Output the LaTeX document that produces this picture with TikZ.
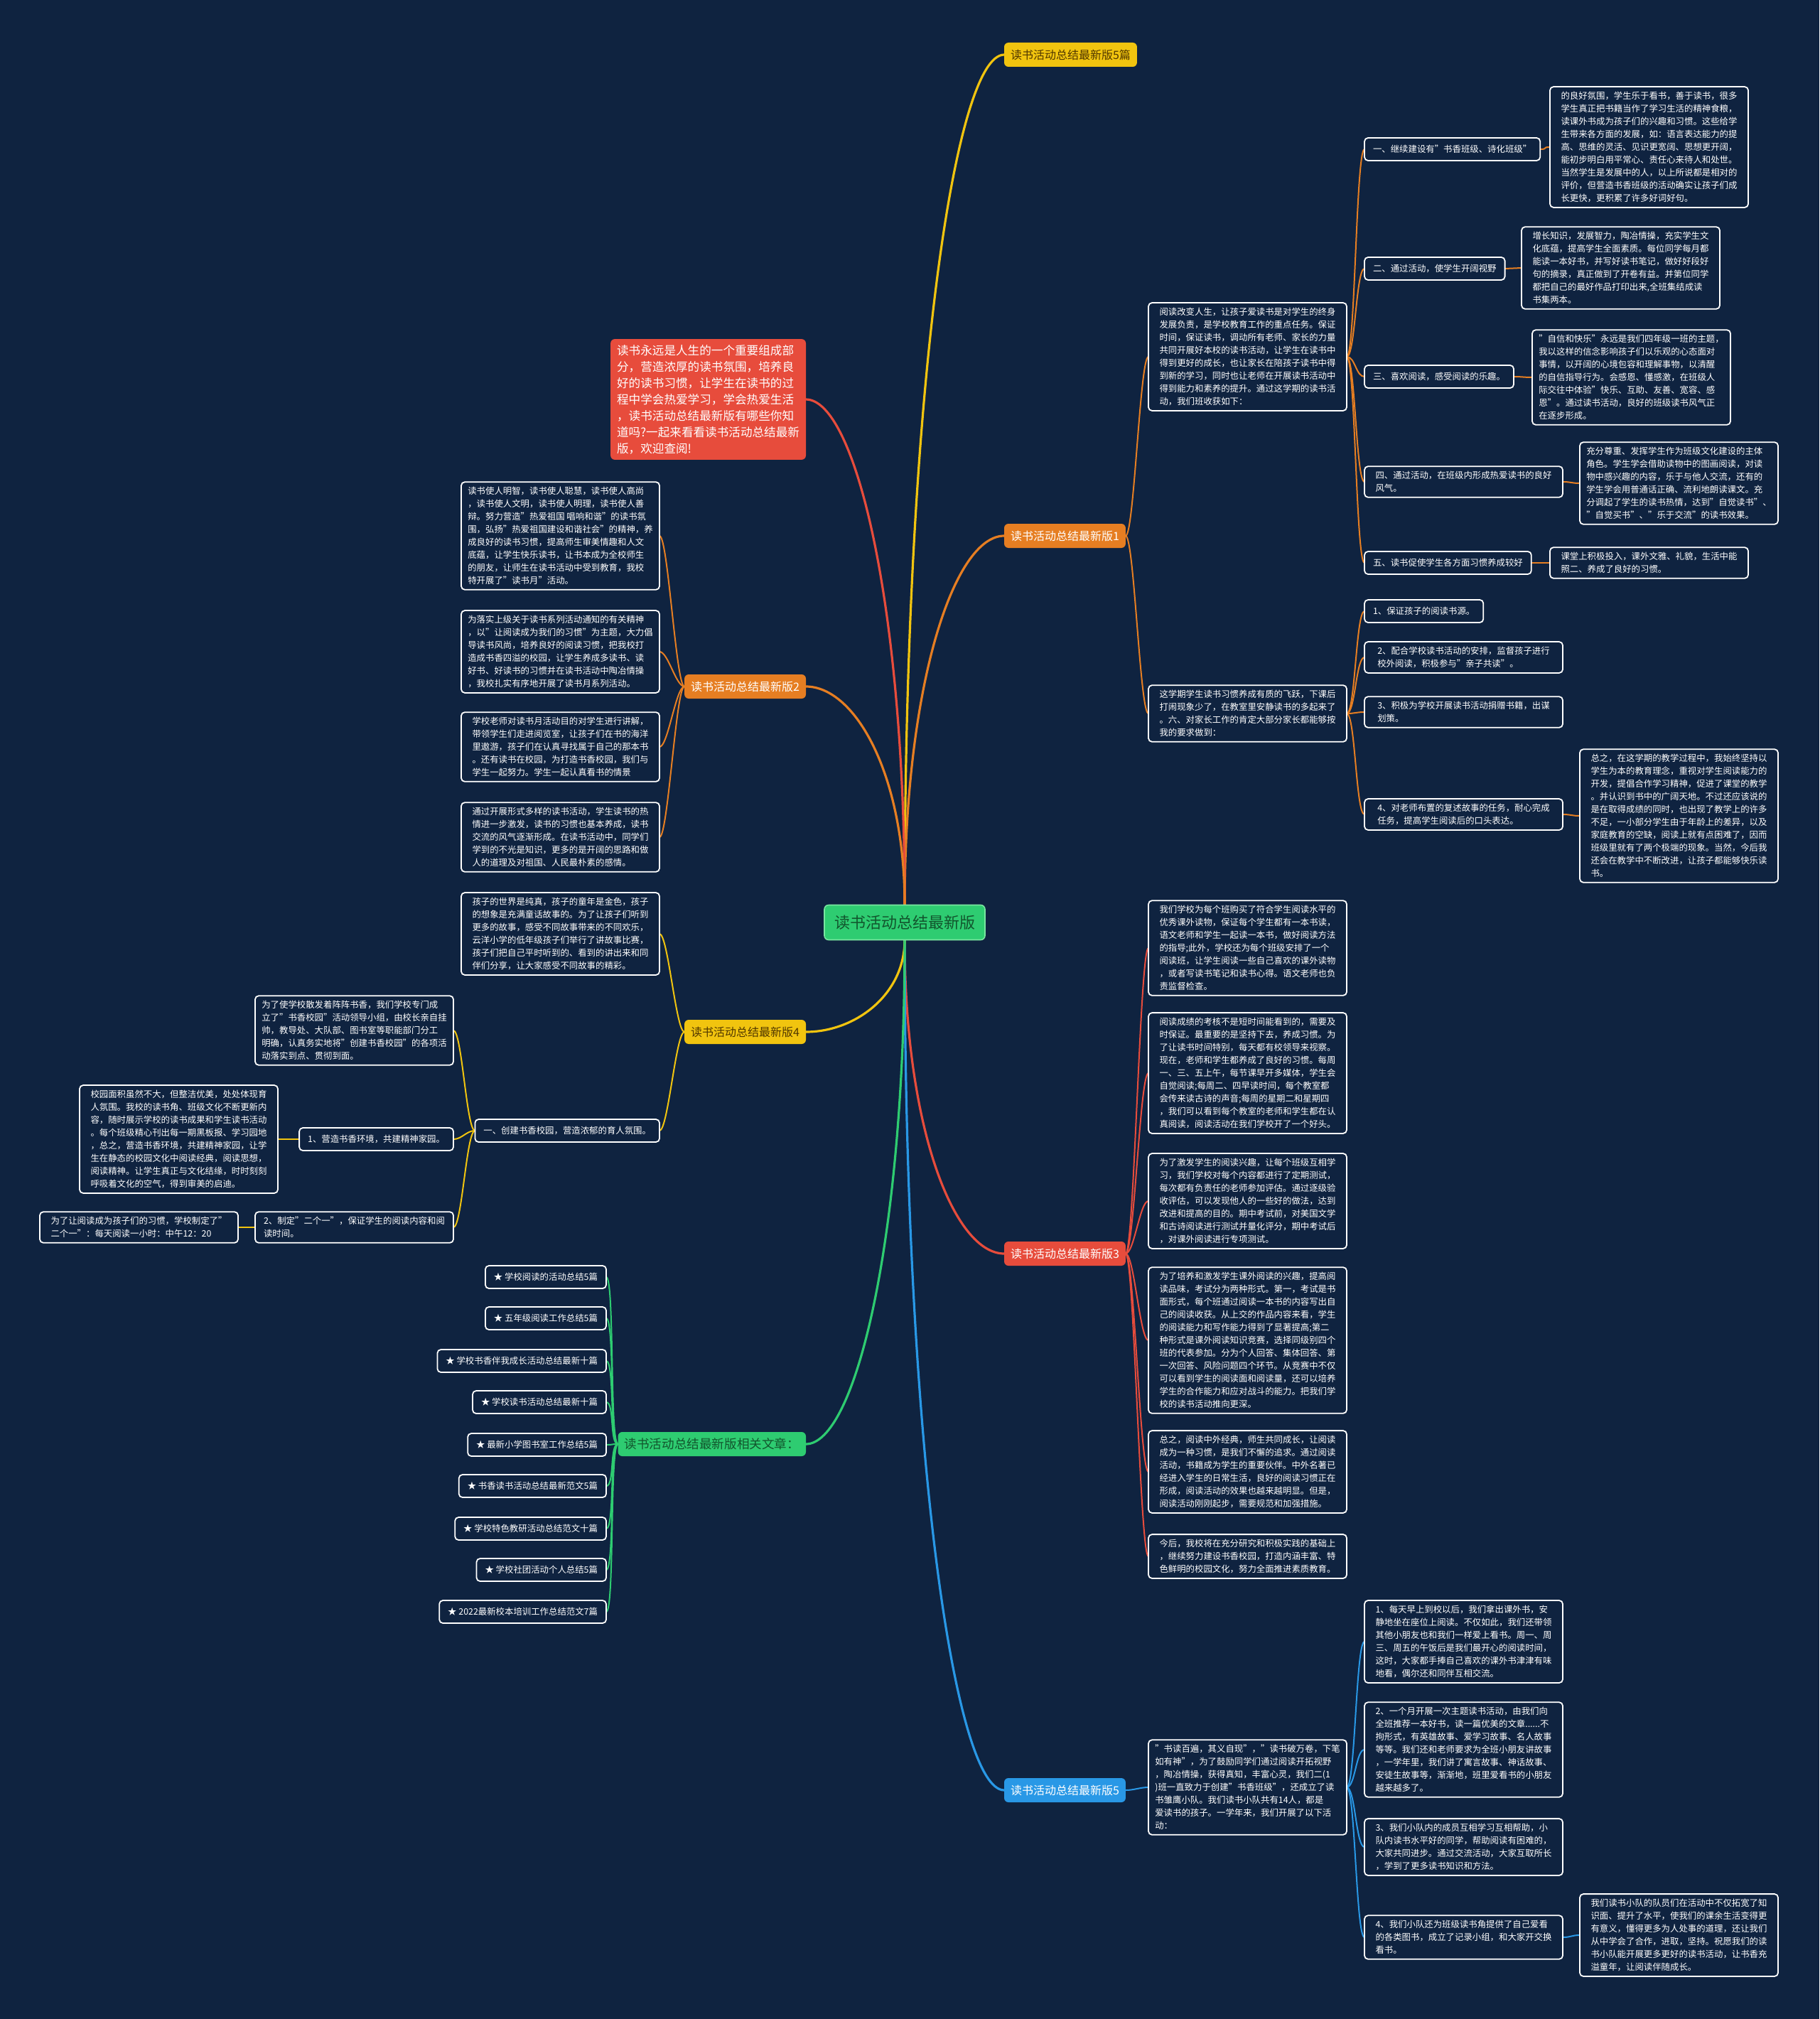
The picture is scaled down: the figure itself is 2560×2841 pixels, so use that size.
\documentclass[tikz,border=0pt]{standalone}
\usepackage{fontspec}
\setmainfont{Noto Sans CJK SC}
\usetikzlibrary{calc}
\pgfdeclarelayer{bgl}
\pgfsetlayers{bgl,main}
\definecolor{bg}{RGB}{15,35,64}
\definecolor{cy}{RGB}{241,196,15}
\definecolor{co}{RGB}{230,126,34}
\definecolor{cr}{RGB}{231,76,60}
\definecolor{cb}{RGB}{41,152,230}
\definecolor{cg}{RGB}{46,204,113}
\definecolor{dg}{RGB}{18,85,45}
\definecolor{dy}{RGB}{80,55,0}
\tikzset{
 txt/.style={draw=white, line width=0.9pt, fill=bg, text=white, rounded corners=2.5pt, align=left, inner xsep=4.5pt, inner ysep=3.5pt, outer sep=0pt, minimum width=139.5pt, font=\fontsize{6.2}{9}\selectfont},
 lbl/.style={draw=white, line width=0.9pt, fill=bg, text=white, rounded corners=2.5pt, align=left, inner xsep=6pt, inner ysep=3.5pt, outer sep=0pt, minimum height=16pt, font=\fontsize{6.2}{9}\selectfont},
 br/.style={rounded corners=3pt, inner xsep=4.5pt, inner ysep=2pt, minimum height=17pt, outer sep=0pt, font=\fontsize{8}{10}\selectfont},
 rootbox/.style={fill=cg, draw={rgb,255:red,120;green,230;blue,160}, line width=0.8pt, text=dg, rounded corners=3pt, minimum width=113pt, minimum height=24.5pt, outer sep=0pt, font=\fontsize{11}{13}\selectfont},
 introbox/.style={fill=cr, text=white, rounded corners=3pt, align=left, inner xsep=4.5pt, inner ysep=4pt, outer sep=0pt, font=\fontsize{8.3}{11.5}\selectfont},
 rc/.style={to path={.. controls ([xshift=6pt]\tikztostart) and ([xshift=-6pt]\tikztotarget) .. (\tikztotarget)}},
 lc/.style={to path={.. controls ([xshift=-6pt]\tikztostart) and ([xshift=6pt]\tikztotarget) .. (\tikztotarget)}},
 mainline/.style={line width=1.6pt, line cap=round},
 subline/.style={line width=1pt, line cap=round},
}
\begin{document}
\begin{tikzpicture}[x=0.5pt,y=-0.5pt]
\useasboundingbox (0,0) rectangle (2560,2841);

% ---------- root and branches ----------
\node[rootbox] (root) at (1273,1298) {读书活动总结最新版};
\node[br, fill=cy, text=dy, anchor=west] (b5p) at (1413,77) {读书活动总结最新版5篇};
\node[br, fill=co, text=white, anchor=west] (b1) at (1413,754) {读书活动总结最新版1};
\node[br, fill=cr, text=white, anchor=west] (b3) at (1413,1764) {读书活动总结最新版3};
\node[br, fill=cb, text=white, anchor=west] (b5) at (1413,2519) {读书活动总结最新版5};
\node[introbox, anchor=east] (intro) at (1134,562) {读书永远是人生的一个重要组成部\\分，营造浓厚的读书氛围，培养良\\好的读书习惯，让学生在读书的过\\程中学会热爱学习，学会热爱生活\\，读书活动总结最新版有哪些你知\\道吗?一起来看看读书活动总结最新\\版，欢迎查阅!};
\node[br, fill=co, text=white, anchor=east] (b2) at (1134,966) {读书活动总结最新版2};
\node[br, fill=cy, text=dy, anchor=east] (b4) at (1134,1452) {读书活动总结最新版4};
\node[br, fill=cg, text=dg, anchor=east, font=\fontsize{8.8}{10}\selectfont] (bx) at (1134,2032) {读书活动总结最新版相关文章：};

% ---------- branch 1 ----------
\node[txt, anchor=west] (La) at (1616,502) {阅读改变人生，让孩子爱读书是对学生的终身\\发展负责，是学校教育工作的重点任务。保证\\时间，保证读书，调动所有老师、家长的力量\\共同开展好本校的读书活动，让学生在读书中\\得到更好的成长，也让家长在陪孩子读书中得\\到新的学习，同时也让老师在开展读书活动中\\得到能力和素养的提升。通过这学期的读书活\\动，我们班收获如下：};
\node[txt, anchor=west] (Lb) at (1616,1004) {这学期学生读书习惯养成有质的飞跃，下课后\\打闹现象少了，在教室里安静读书的多起来了\\。六、对家长工作的肯定大部分家长都能够按\\我的要求做到：};

\node[lbl, anchor=west] (s1) at (1920,210) {一、继续建设有"书香班级、诗化班级"};
\node[lbl, anchor=west] (s2) at (1920,378) {二、通过活动，使学生开阔视野};
\node[lbl, anchor=west] (s3) at (1920,530) {三、喜欢阅读，感受阅读的乐趣。};
\node[txt, anchor=west] (s4) at (1920,678) {四、通过活动，在班级内形成热爱读书的良好\\风气。};
\node[lbl, anchor=west] (s5) at (1920,792) {五、读书促使学生各方面习惯养成较好};

\node[txt, anchor=west] (d1) at (2181,207) {的良好氛围，学生乐于看书，善于读书，很多\\学生真正把书籍当作了学习生活的精神食粮，\\读课外书成为孩子们的兴趣和习惯。这些给学\\生带来各方面的发展，如：语言表达能力的提\\高、思维的灵活、见识更宽阔、思想更开阔，\\能初步明白用平常心、责任心来待人和处世。\\当然学生是发展中的人，以上所说都是相对的\\评价，但营造书香班级的活动确实让孩子们成\\长更快，更积累了许多好词好句。};
\node[txt, anchor=west] (d2) at (2141,377) {增长知识，发展智力，陶冶情操，充实学生文\\化底蕴，提高学生全面素质。每位同学每月都\\能读一本好书，并写好读书笔记，做好好段好\\句的摘录，真正做到了开卷有益。并第位同学\\都把自己的最好作品打印出来,全班集结成读\\书集两本。};
\node[txt, anchor=west] (d3) at (2156,531) {"自信和快乐"永远是我们四年级一班的主题，\\我以这样的信念影响孩子们以乐观的心态面对\\事情，以开阔的心境包容和理解事物，以清醒\\的自信指导行为。会感恩、懂感激，在班级人\\际交往中体验"快乐、互助、友善、宽容、感\\恩"。通过读书活动，良好的班级读书风气正\\在逐步形成。};
\node[txt, anchor=west] (d4) at (2223,680) {充分尊重、发挥学生作为班级文化建设的主体\\角色。学生学会借助读物中的图画阅读，对读\\物中感兴趣的内容，乐于与他人交流，还有的\\学生学会用普通话正确、流利地朗读课文。充\\分调起了学生的读书热情，达到"自觉读书"、\\"自觉买书"、"乐于交流"的读书效果。};
\node[txt, anchor=west] (d5) at (2181,792) {课堂上积极投入，课外文雅、礼貌，生活中能\\照二、养成了良好的习惯。};

\node[lbl, anchor=west] (t1) at (1920,860) {1、保证孩子的阅读书源。};
\node[txt, anchor=west] (t2) at (1920,925) {2、配合学校读书活动的安排，监督孩子进行\\校外阅读，积极参与"亲子共读"。};
\node[txt, anchor=west] (t3) at (1920,1002) {3、积极为学校开展读书活动捐赠书籍，出谋\\划策。};
\node[txt, anchor=west] (t4) at (1920,1146) {4、对老师布置的复述故事的任务，耐心完成\\任务，提高学生阅读后的口头表达。};
\node[txt, anchor=west] (t4d) at (2223,1148) {总之，在这学期的教学过程中，我始终坚持以\\学生为本的教育理念，重视对学生阅读能力的\\开发，提倡合作学习精神，促进了课堂的教学\\。并认识到书中的广阔天地。不过还应该说的\\是在取得成绩的同时，也出现了教学上的许多\\不足，一小部分学生由于年龄上的差异，以及\\家庭教育的空缺，阅读上就有点困难了，因而\\班级里就有了两个极端的现象。当然，今后我\\还会在教学中不断改进，让孩子都能够快乐读\\书。};

% ---------- branch 3 ----------
\node[txt, anchor=west] (r1) at (1616,1334) {我们学校为每个班购买了符合学生阅读水平的\\优秀课外读物，保证每个学生都有一本书读，\\语文老师和学生一起读一本书，做好阅读方法\\的指导;此外，学校还为每个班级安排了一个\\阅读班，让学生阅读一些自己喜欢的课外读物\\，或者写读书笔记和读书心得。语文老师也负\\责监督检查。};
\node[txt, anchor=west] (r2) at (1616,1510) {阅读成绩的考核不是短时间能看到的，需要及\\时保证。最重要的是坚持下去，养成习惯。为\\了让读书时间特别，每天都有校领导来视察。\\现在，老师和学生都养成了良好的习惯。每周\\一、三、五上午，每节课早开多媒体，学生会\\自觉阅读;每周二、四早读时间，每个教室都\\会传来读古诗的声音;每周的星期二和星期四\\，我们可以看到每个教室的老师和学生都在认\\真阅读，阅读活动在我们学校开了一个好头。};
\node[txt, anchor=west] (r3) at (1616,1690) {为了激发学生的阅读兴趣，让每个班级互相学\\习，我们学校对每个内容都进行了定期测试，\\每次都有负责任的老师参加评估。通过逐级验\\收评估，可以发现他人的一些好的做法，达到\\改进和提高的目的。期中考试前，对美国文学\\和古诗阅读进行测试并量化评分，期中考试后\\，对课外阅读进行专项测试。};
\node[txt, anchor=west] (r4) at (1616,1886) {为了培养和激发学生课外阅读的兴趣，提高阅\\读品味，考试分为两种形式。第一，考试是书\\面形式，每个班通过阅读一本书的内容写出自\\己的阅读收获。从上交的作品内容来看，学生\\的阅读能力和写作能力得到了显著提高;第二\\种形式是课外阅读知识竞赛，选择同级别四个\\班的代表参加。分为个人回答、集体回答、第\\一次回答、风险问题四个环节。从竞赛中不仅\\可以看到学生的阅读面和阅读量，还可以培养\\学生的合作能力和应对战斗的能力。把我们学\\校的读书活动推向更深。};
\node[txt, anchor=west] (r5) at (1616,2071) {总之，阅读中外经典，师生共同成长，让阅读\\成为一种习惯，是我们不懈的追求。通过阅读\\活动，书籍成为学生的重要伙伴。中外名著已\\经进入学生的日常生活，良好的阅读习惯正在\\形成，阅读活动的效果也越来越明显。但是，\\阅读活动刚刚起步，需要规范和加强措施。};
\node[txt, anchor=west] (r6) at (1616,2190) {今后，我校将在充分研究和积极实践的基础上\\，继续努力建设书香校园，打造内涵丰富、特\\色鲜明的校园文化，努力全面推进素质教育。};

% ---------- branch 5 ----------
\node[txt, anchor=west] (v0) at (1616,2515) {"书读百遍，其义自现"，"读书破万卷，下笔\\如有神"，为了鼓励同学们通过阅读开拓视野\\，陶冶情操，获得真知，丰富心灵，我们二(1\\)班一直致力于创建"书香班级"，还成立了读\\书雏鹰小队。我们读书小队共有14人，都是\\爱读书的孩子。一学年来，我们开展了以下活\\动：};
\node[txt, anchor=west] (v1) at (1920,2310) {1、每天早上到校以后，我们拿出课外书，安\\静地坐在座位上阅读。不仅如此，我们还带领\\其他小朋友也和我们一样爱上看书。周一、周\\三、周五的午饭后是我们最开心的阅读时间，\\这时，大家都手捧自己喜欢的课外书津津有味\\地看，偶尔还和同伴互相交流。};
\node[txt, anchor=west] (v2) at (1920,2462) {2、一个月开展一次主题读书活动，由我们向\\全班推荐一本好书，读一篇优美的文章......不\\拘形式，有英雄故事、爱学习故事、名人故事\\等等。我们还和老师要求为全班小朋友讲故事\\，一学年里，我们讲了寓言故事、神话故事、\\安徒生故事等，渐渐地，班里爱看书的小朋友\\越来越多了。};
\node[txt, anchor=west] (v3) at (1920,2599) {3、我们小队内的成员互相学习互相帮助，小\\队内读书水平好的同学，帮助阅读有困难的，\\大家共同进步。通过交流活动，大家互取所长\\，学到了更多读书知识和方法。};
\node[txt, anchor=west] (v4) at (1920,2726) {4、我们小队还为班级读书角提供了自己爱看\\的各类图书，成立了记录小组，和大家开交换\\看书。};
\node[txt, anchor=west] (v4d) at (2223,2723) {我们读书小队的队员们在活动中不仅拓宽了知\\识面、提升了水平，使我们的课余生活变得更\\有意义，懂得更多为人处事的道理，还让我们\\从中学会了合作，进取，坚持。祝愿我们的读\\书小队能开展更多更好的读书活动，让书香充\\溢童年，让阅读伴随成长。};

% ---------- branch 2 ----------
\node[txt, anchor=east] (e1) at (928,754) {读书使人明智，读书使人聪慧，读书使人高尚\\，读书使人文明，读书使人明理，读书使人善\\辩。努力营造"热爱祖国 唱响和谐"的读书氛\\围，弘扬"热爱祖国建设和谐社会"的精神，养\\成良好的读书习惯，提高师生审美情趣和人文\\底蕴，让学生快乐读书，让书本成为全校师生\\的朋友，让师生在读书活动中受到教育，我校\\特开展了"读书月"活动。};
\node[txt, anchor=east] (e2) at (928,917) {为落实上级关于读书系列活动通知的有关精神\\，以"让阅读成为我们的习惯"为主题，大力倡\\导读书风尚，培养良好的阅读习惯，把我校打\\造成书香四溢的校园，让学生养成多读书、读\\好书、好读书的习惯并在读书活动中陶冶情操\\，我校扎实有序地开展了读书月系列活动。};
\node[txt, anchor=east] (e3) at (928,1051) {学校老师对读书月活动目的对学生进行讲解，\\带领学生们走进阅览室，让孩子们在书的海洋\\里遨游，孩子们在认真寻找属于自己的那本书\\。还有读书在校园，为打造书香校园，我们与\\学生一起努力。学生一起认真看书的情景};
\node[txt, anchor=east] (e4) at (928,1178) {通过开展形式多样的读书活动，学生读书的热\\情进一步激发，读书的习惯也基本养成，读书\\交流的风气逐渐形成。在读书活动中，同学们\\学到的不光是知识，更多的是开阔的思路和做\\人的道理及对祖国、人民最朴素的感情。};

% ---------- branch 4 ----------
\node[txt, anchor=east] (f1) at (928,1314) {孩子的世界是纯真，孩子的童年是金色，孩子\\的想象是充满童话故事的。为了让孩子们听到\\更多的故事，感受不同故事带来的不同欢乐，\\云洋小学的低年级孩子们举行了讲故事比赛，\\孩子们把自己平时听到的、看到的讲出来和同\\伴们分享，让大家感受不同故事的精彩。};
\node[lbl, anchor=east] (f2) at (928,1591) {一、创建书香校园，营造浓郁的育人氛围。};
\node[txt, anchor=east] (f2a) at (638,1450) {为了使学校散发着阵阵书香，我们学校专门成\\立了"书香校园"活动领导小组，由校长亲自挂\\帅，教导处、大队部、图书室等职能部门分工\\明确，认真务实地将"创建书香校园"的各项活\\动落实到点、贯彻到面。};
\node[lbl, anchor=east] (f2b) at (638,1603) {1、营造书香环境，共建精神家园。};
\node[txt, anchor=east] (f2bd) at (391,1603) {校园面积虽然不大，但整洁优美，处处体现育\\人氛围。我校的读书角、班级文化不断更新内\\容，随时展示学校的读书成果和学生读书活动\\。每个班级精心刊出每一期黑板报、学习园地\\，总之，营造书香环境，共建精神家园，让学\\生在静态的校园文化中阅读经典，阅读思想，\\阅读精神。让学生真正与文化结缘，时时刻刻\\呼吸着文化的空气，得到审美的启迪。};
\node[txt, anchor=east] (f2c) at (638,1727) {2、制定"二个一"，保证学生的阅读内容和阅\\读时间。};
\node[txt, anchor=east] (f2cd) at (335,1727) {为了让阅读成为孩子们的习惯，学校制定了"\\二个一"：每天阅读一小时：中午12：20};

% ---------- related articles ----------
\node[lbl, anchor=east] (x1) at (853,1797) {★ 学校阅读的活动总结5篇};
\node[lbl, anchor=east] (x2) at (853,1855) {★ 五年级阅读工作总结5篇};
\node[lbl, anchor=east] (x3) at (853,1915) {★ 学校书香伴我成长活动总结最新十篇};
\node[lbl, anchor=east] (x4) at (853,1973) {★ 学校读书活动总结最新十篇};
\node[lbl, anchor=east] (x5) at (853,2033) {★ 最新小学图书室工作总结5篇};
\node[lbl, anchor=east] (x6) at (853,2091) {★ 书香读书活动总结最新范文5篇};
\node[lbl, anchor=east] (x7) at (853,2151) {★ 学校特色教研活动总结范文十篇};
\node[lbl, anchor=east] (x8) at (853,2209) {★ 学校社团活动个人总结5篇};
\node[lbl, anchor=east] (x9) at (853,2268) {★ 2022最新校本培训工作总结范文7篇};

% ---------- background and connectors ----------
\begin{pgfonlayer}{bgl}
\fill[bg] (0,0) rectangle (2560,2841);

\draw[mainline, cy] (root.north) .. controls (1273,556) and (1343,77) .. (b5p.west);
\draw[mainline, co] (root.north) .. controls (1273,962) and (1343,754) .. (b1.west);
\draw[mainline, cr] (root.south) .. controls (1273,1588) and (1343,1764) .. (b3.west);
\draw[mainline, cb] (root.south) .. controls (1273,2041) and (1343,2519) .. (b5.west);
\draw[mainline, cr] (root.north) .. controls (1273,849) and (1203,562) .. (intro.east);
\draw[mainline, co] (root.north) .. controls (1273,1089) and (1203,966) .. (b2.east);
\draw[mainline, cy] (root.south) .. controls (1273,1400) and (1203,1452) .. (b4.east);
\draw[mainline, cg] (root.south) .. controls (1273,1748) and (1203,2032) .. (bx.east);

\foreach \n in {La,Lb} \draw[subline, co] (b1.east) to[rc] (\n.west);
\foreach \n in {s1,s2,s3,s4,s5} \draw[subline, co] (La.east) to[rc] (\n.west);
\draw[subline, co] (s1.east) to[rc] (d1.west);
\draw[subline, co] (s2.east) to[rc] (d2.west);
\draw[subline, co] (s3.east) to[rc] (d3.west);
\draw[subline, co] (s4.east) to[rc] (d4.west);
\draw[subline, co] (s5.east) to[rc] (d5.west);
\foreach \n in {t1,t2,t3,t4} \draw[subline, co] (Lb.east) to[rc] (\n.west);
\draw[subline, co] (t4.east) to[rc] (t4d.west);

\foreach \n in {r1,r2,r3,r4,r5,r6} \draw[subline, cr] (b3.east) to[rc] (\n.west);

\draw[subline, cb] (b5.east) to[rc] (v0.west);
\foreach \n in {v1,v2,v3,v4} \draw[subline, cb] (v0.east) to[rc] (\n.west);
\draw[subline, cb] (v4.east) to[rc] (v4d.west);

\foreach \n in {e1,e2,e3,e4} \draw[subline, co] (b2.west) to[lc] (\n.east);

\foreach \n in {f1,f2} \draw[subline, cy] (b4.west) to[lc] (\n.east);
\foreach \n in {f2a,f2b,f2c} \draw[subline, cy] (f2.west) to[lc] (\n.east);
\draw[subline, cy] (f2b.west) to[lc] (f2bd.east);
\draw[subline, cy] (f2c.west) to[lc] (f2cd.east);

\foreach \n in {x1,x2,x3,x4,x5,x6,x7,x8,x9} \draw[subline, cg] (bx.west) to[lc] (\n.east);
\end{pgfonlayer}
\end{tikzpicture}
\end{document}
